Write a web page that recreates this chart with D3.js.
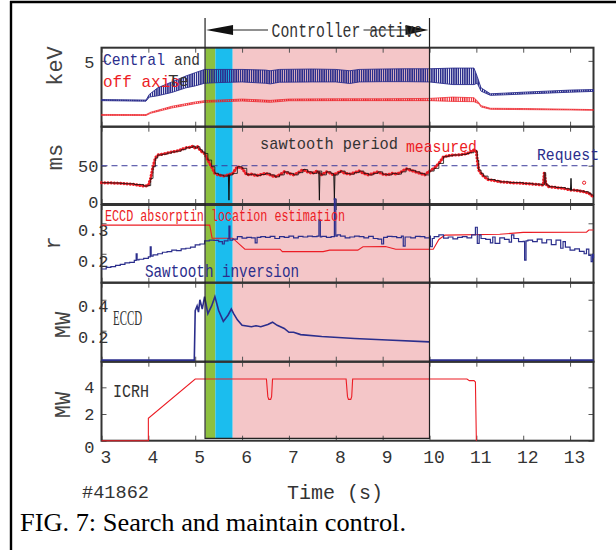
<!DOCTYPE html>
<html>
<head>
<meta charset="utf-8">
<script src="https://cdn.jsdelivr.net/npm/d3@7"></script>
<style>
  body { margin: 0; background: #fff; }
  svg { display: block; }
</style>
</head>
<body>
<div class="d3-canvas"></div>
<script>
const WIDTH = 616;
const HEIGHT = 550;

const MONO = "'Liberation Mono', 'DejaVu Sans Mono', monospace";
const SERIF = "'Liberation Serif', 'DejaVu Serif', serif";
const BLUE = '#2b2e8c';
const RED = '#ec1c24';
const INK = '#333';

// ---- data ----
const xTicks = [3, 4, 5, 6, 7, 8, 9, 10, 11, 12, 13];
const keVTicks = [5];
const msTicks = [0, 50];
const rTicks = [0.2, 0.3];
const eccdTicks = [0.2, 0.4];
const icrhTicks = [0, 2, 4];

// control phases (s): search (green), settle (cyan), maintain (pink)
const phaseStarts = [5.22, 5.43, 5.80];
const phaseEnds = [5.43, 5.80, 10.0];
const phaseColors = ['#8dc03f', '#1bbdee', '#f4c6c8'];
const controllerOn = [5.21, 10.0];

// Te envelopes [t, low, high] keV (sawtooth band)
const teCentral = [[3.0,1.98,2.06],[3.5,1.96,2.04],[3.95,1.94,2.02],[4.02,2.25,2.45],[4.2,2.35,2.95],[4.5,2.6,3.4],[4.8,2.95,3.85],[5.0,3.1,4.1],[5.2,3.3,4.35],[5.5,3.35,4.35],[6.0,3.4,4.35],[6.5,3.3,4.3],[6.6,3.25,4.25],[6.8,3.38,4.35],[7.5,3.4,4.38],[8.0,3.4,4.35],[8.3,3.28,4.25],[8.5,3.4,4.35],[9.0,3.42,4.38],[9.5,3.42,4.4],[10.0,3.4,4.4],[10.5,3.2,4.45],[10.95,3.2,4.45],[11.02,3.3,3.8],[11.1,2.7,2.95],[11.3,2.38,2.5],[11.6,2.42,2.55],[12.0,2.48,2.62],[12.5,2.55,2.7],[13.0,2.62,2.78],[13.5,2.68,2.82]];
const teOffAxis = [[3.0,0.86,0.93],[3.95,0.85,0.92],[4.05,1.02,1.1],[4.5,1.42,1.55],[5.0,1.75,1.88],[5.2,1.85,1.98],[6.0,1.95,2.1],[6.6,1.85,2.0],[7.0,1.97,2.1],[8.0,1.98,2.12],[9.0,1.98,2.12],[10.0,1.98,2.15],[10.5,1.92,2.25],[10.95,1.9,2.2],[11.05,1.75,1.85],[11.1,1.5,1.6],[11.3,1.32,1.4],[12.0,1.3,1.38],[13.0,1.27,1.33],[13.5,1.24,1.3]];

// sawtooth period [t, ms]
const periodRequest = 50;
const periodMeasured = [[3.0,27.8],[3.2,27.5],[3.4,27],[3.5,26.5],[3.7,25.5],[3.9,23.5],[4.0,24],[4.05,33.5],[4.1,48.7],[4.15,60],[4.2,64],[4.3,65],[4.4,66.5],[4.5,68],[4.6,69],[4.7,71],[4.8,73.5],[4.9,74],[4.95,75.7],[5.0,73],[5.05,74.8],[5.1,71],[5.15,68],[5.2,66],[5.27,57.4],[5.35,48.7],[5.42,40],[5.5,37.9],[5.6,36.5],[5.7,38],[5.8,40],[5.9,48.7],[6.0,46.6],[6.1,38.2],[6.2,39],[6.3,37],[6.4,38.5],[6.5,40.1],[6.6,38],[6.7,35.5],[6.8,38],[6.9,42],[7.0,40],[7.1,38],[7.2,41],[7.3,45],[7.4,42],[7.5,40],[7.6,43],[7.7,38],[7.8,42],[7.9,40],[7.95,38],[8.05,41],[8.1,43],[8.2,40],[8.3,39],[8.4,41],[8.5,43],[8.6,40],[8.7,38],[8.8,40],[8.9,42],[9.0,39],[9.1,38],[9.2,40],[9.3,39],[9.4,42],[9.5,46],[9.6,44],[9.7,42],[9.8,40],[9.9,38],[10.0,43],[10.1,46.6],[10.2,53],[10.3,61.8],[10.4,63],[10.5,64],[10.6,64],[10.7,64.8],[10.8,66],[10.85,67],[10.95,70.5],[11.0,68.3],[11.02,57.4],[11.05,44.4],[11.1,40],[11.15,36.5],[11.25,32],[11.4,30.5],[11.5,29],[11.7,28],[12.0,27],[12.2,26],[12.4,24.8],[12.43,24.8],[12.45,40.9],[12.48,27],[12.5,24.8],[12.55,22.6],[12.7,21.5],[12.9,20],[13.0,18.3],[13.1,18],[13.2,17],[13.3,16],[13.4,14],[13.45,11.7],[13.5,9]];
const periodStray = [[13.3, 27.8]];
// black-only drops [t, from, to]
const periodDrops = [[5.72,38,5],[7.65,42,5],[7.97,38,5],[13.02,18,33.5]];

// ECCD absorption location and sawtooth inversion radius [t, r]
const eccdLocation = [[3,0.294],[5.31,0.294],[5.36,0.251],[5.8,0.251],[6.06,0.215],[6.81,0.215],[6.86,0.207],[7.73,0.207],[7.87,0.212],[8.47,0.212],[8.58,0.223],[9.06,0.224],[9.28,0.215],[10.08,0.215],[10.2,0.247],[10.33,0.261],[11.5,0.264],[12.0,0.27],[13.35,0.271],[13.4,0.278],[13.5,0.278]];
const inversionRadius = [[3.0,0.150],[3.1,0.155],[3.2,0.158],[3.3,0.162],[3.4,0.165],[3.5,0.170],[3.6,0.172],[3.7,0.178],[3.74,0.200],[3.76,0.180],[3.8,0.182],[3.9,0.185],[4.0,0.190],[4.04,0.223],[4.06,0.192],[4.1,0.196],[4.2,0.200],[4.3,0.205],[4.4,0.207],[4.5,0.212],[4.6,0.210],[4.7,0.216],[4.8,0.218],[4.9,0.222],[5.0,0.229],[5.1,0.232],[5.2,0.242],[5.3,0.245],[5.4,0.244],[5.5,0.240],[5.58,0.232],[5.62,0.242],[5.7,0.250],[5.72,0.291],[5.74,0.245],[5.8,0.248],[5.9,0.256],[6.0,0.251],[6.1,0.254],[6.2,0.252],[6.28,0.236],[6.32,0.254],[6.4,0.256],[6.5,0.254],[6.6,0.257],[6.7,0.250],[6.8,0.256],[6.9,0.254],[7.0,0.258],[7.1,0.252],[7.2,0.257],[7.3,0.255],[7.4,0.258],[7.5,0.256],[7.6,0.258],[7.64,0.311],[7.67,0.255],[7.7,0.257],[7.8,0.254],[7.9,0.256],[7.97,0.380],[8.0,0.258],[8.03,0.262],[8.1,0.258],[8.2,0.252],[8.3,0.255],[8.4,0.258],[8.5,0.256],[8.6,0.252],[8.7,0.257],[8.8,0.250],[8.9,0.248],[8.98,0.232],[9.02,0.254],[9.1,0.257],[9.2,0.256],[9.3,0.253],[9.4,0.258],[9.44,0.225],[9.48,0.255],[9.6,0.252],[9.7,0.257],[9.8,0.256],[9.9,0.252],[10.0,0.258],[10.02,0.223],[10.06,0.250],[10.1,0.256],[10.2,0.262],[10.3,0.251],[10.4,0.255],[10.5,0.249],[10.6,0.254],[10.7,0.256],[10.8,0.252],[10.9,0.262],[10.98,0.287],[11.02,0.234],[11.06,0.262],[11.1,0.250],[11.2,0.247],[11.3,0.236],[11.35,0.255],[11.4,0.234],[11.5,0.252],[11.6,0.247],[11.7,0.238],[11.75,0.262],[11.8,0.250],[11.9,0.240],[12.0,0.241],[12.03,0.179],[12.06,0.242],[12.1,0.245],[12.2,0.240],[12.3,0.248],[12.4,0.236],[12.5,0.246],[12.6,0.230],[12.7,0.245],[12.8,0.218],[12.85,0.240],[12.9,0.222],[13.0,0.212],[13.1,0.216],[13.2,0.208],[13.3,0.200],[13.35,0.215],[13.4,0.195],[13.45,0.174],[13.48,0.198],[13.5,0.185]];

// ECCD power [t, MW] (null = gap)
const eccdPower = [[3,0.01],[4.98,0.01],[5.0,0.33],[5.04,0.36],[5.07,0.32],[5.1,0.40],[5.15,0.34],[5.2,0.42],[5.27,0.31],[5.35,0.36],[5.42,0.42],[5.5,0.33],[5.6,0.26],[5.7,0.30],[5.77,0.34],[5.82,0.31],[5.9,0.27],[6.0,0.235],[6.2,0.226],[6.3,0.232],[6.4,0.226],[6.55,0.24],[6.65,0.255],[6.75,0.235],[6.9,0.215],[7.0,0.19],[7.1,0.19],[7.25,0.175],[7.7,0.163],[8.4,0.15],[9.1,0.14],[10.0,0.128],[10.0,null],[10.0,0.01],[13.5,0.01]];

// ICRH power [t, MW]
const icrhPower = [[3,0],[4.0,0],[4.0,1.68],[5.0,4.62],[6.52,4.62],[6.55,3.3],[6.57,3.1],[6.61,3.1],[6.63,3.3],[6.65,4.62],[8.22,4.62],[8.25,3.3],[8.27,3.1],[8.32,3.1],[8.34,3.3],[8.36,4.62],[10.8,4.62],[10.85,4.5],[10.95,4.5],[10.98,4.4],[11.0,0]];

// ---- layout ----
const svg = d3.select('.d3-canvas')
    .append('svg')
        .attr('width', WIDTH)
        .attr('height', HEIGHT);

const x = d3.scaleLinear().domain([3, 13.5]).range([101.5, 593.5]);
const [X0, X1] = x.range();

const panels = [
    {top: 47.7, bottom: 126.7, domain: [0, 6.0], ticks: keVTicks, fmt: d3.format('d'), pad: 7, shift: 1, title: 'keV', tx: 54, ty: 66},
    {top: 126.7, bottom: 204, domain: [0, 101], ticks: msTicks, fmt: d3.format('d'), pad: 3, shift: 0, title: 'ms', tx: 54, ty: 157},
    {top: 205, bottom: 282.7, domain: [0.105, 0.36], ticks: rTicks, fmt: d3.format('.1f'), pad: -7, shift: 7, title: 'r', tx: 52, ty: 243},
    {top: 282.7, bottom: 361.7, domain: [0, 0.51], ticks: eccdTicks, fmt: d3.format('.1f'), pad: -7, shift: 6, title: 'MW', tx: 62, ty: 325},
    {top: 361.7, bottom: 440.7, domain: [0, 5.92], ticks: icrhTicks, fmt: d3.format('d'), pad: 7, shift: 0, title: 'MW', tx: 62, ty: 405}
];
panels.forEach(p => { p.y = d3.scaleLinear().domain(p.domain).range([p.bottom, p.top]); });
const [pTe, pMs, pR, pEccd, pIcrh] = panels;

function label(sel, str, px, py, o) {
    return sel.append('text')
        .attr('x', px).attr('y', py)
        .attr('font-family', o.family || MONO)
        .attr('font-size', o.size || 17)
        .attr('fill', o.fill || INK)
        .attr('text-anchor', o.anchor || 'start')
        .attr('textLength', o.len || null)
        .attr('lengthAdjust', o.len ? 'spacingAndGlyphs' : null)
        .text(str);
}

// sawtooth hatching patterns
const defs = svg.append('defs');
[['sawBlue', BLUE, 1.5], ['sawRed', RED, 1.2]].forEach(([id, col, w]) => {
    defs.append('pattern').attr('id', id)
        .attr('patternUnits', 'userSpaceOnUse')
        .attr('width', 2.2).attr('height', 10)
        .append('rect').attr('width', w).attr('height', 10).attr('fill', col);
});

// frame of the figure
svg.append('line').attr('x1', 11).attr('x2', 11).attr('y1', 1).attr('y2', HEIGHT)
    .attr('stroke', '#000').attr('stroke-width', 2.4);
svg.append('line').attr('x1', 10).attr('x2', WIDTH).attr('y1', 2).attr('y2', 2)
    .attr('stroke', '#000').attr('stroke-width', 2.4);

// phase shading
const shadeTop = pTe.top, shadeBottom = 438.3;
svg.append('g').selectAll('rect')
    .data(phaseStarts)
    .enter().append('rect')
        .attr('x', d => x(d))
        .attr('y', shadeTop)
        .attr('width', (d, i) => x(phaseEnds[i]) - x(d))
        .attr('height', shadeBottom - shadeTop)
        .attr('fill', (d, i) => phaseColors[i]);

// panel frames and ticks
panels.forEach((p, i) => {
    const g = svg.append('g');
    const tickStyle = s => {
        s.select('.domain').remove();
        s.selectAll('.tick line').attr('stroke', '#555').attr('stroke-width', 1);
    };
    g.append('g').attr('transform', `translate(0,${p.top})`)
        .call(d3.axisTop(x).tickValues(xTicks).tickSize(-5).tickFormat(''))
        .call(tickStyle);
    const bottomAxis = d3.axisBottom(x).tickValues(xTicks).tickSizeInner(-5).tickSizeOuter(0);
    if (i < panels.length - 1) bottomAxis.tickFormat('');
    else bottomAxis.tickPadding(10).tickFormat(d3.format('d'));
    const bx = g.append('g').attr('transform', `translate(0,${p.bottom})`)
        .call(bottomAxis).call(tickStyle);
    bx.selectAll('text').attr('font-family', MONO).attr('font-size', 18)
        .attr('fill', INK).attr('dx', 4);

    const lx = g.append('g').attr('transform', `translate(${X0},0)`)
        .call(d3.axisLeft(p.y).tickValues(p.ticks).tickSize(-5).tickPadding(p.pad).tickFormat(p.fmt))
        .call(tickStyle);
    lx.selectAll('text').attr('font-family', MONO).attr('font-size', 17).attr('fill', INK)
        .attr('transform', d => `translate(0,${d === 0 ? (i === 4 ? 6 : -2) : p.shift})`);
    g.append('g').attr('transform', `translate(${X1},0)`)
        .call(d3.axisRight(p.y).tickValues(p.ticks).tickSize(-5).tickFormat(''))
        .call(tickStyle);

    g.append('rect')
        .attr('x', X0).attr('y', p.top)
        .attr('width', X1 - X0).attr('height', p.bottom - p.top)
        .attr('fill', 'none').attr('stroke', INK).attr('stroke-width', 2);

    svg.append('text')
        .attr('transform', `translate(${p.tx},${p.ty}) rotate(-90)`)
        .attr('text-anchor', 'middle')
        .attr('dy', '0.35em')
        .attr('font-family', MONO).attr('font-size', 22).attr('fill', '#444')
        .text(p.title);
});

// ---- panel 1: Te ----
const bandFor = p => d3.area().x(d => x(d[0])).y0(d => p.y(d[1])).y1(d => p.y(d[2]));
svg.append('path').datum(teOffAxis)
    .attr('d', bandFor(pTe))
    .attr('fill', 'url(#sawRed)').attr('stroke', RED).attr('stroke-width', 0.7);
svg.append('path').datum(teCentral)
    .attr('d', bandFor(pTe))
    .attr('fill', 'url(#sawBlue)').attr('stroke', BLUE).attr('stroke-width', 0.9);

// ---- panel 2: sawtooth period ----
const msLine = d3.line().x(d => x(d[0])).y(d => pMs.y(d[1]));
svg.append('line')
    .attr('x1', X0).attr('x2', X1)
    .attr('y1', pMs.y(periodRequest)).attr('y2', pMs.y(periodRequest))
    .attr('stroke', '#3a3a9a').attr('stroke-width', 1).attr('stroke-dasharray', '6,4');
svg.append('path').datum(periodMeasured)
    .attr('d', msLine)
    .attr('fill', 'none').attr('stroke', RED).attr('stroke-width', 3.2)
    .attr('stroke-linecap', 'round').attr('stroke-dasharray', '0.1,3.1');
svg.append('g').selectAll('circle')
    .data(periodStray)
    .enter().append('circle')
        .attr('cx', d => x(d[0])).attr('cy', d => pMs.y(d[1])).attr('r', 1.6)
        .attr('fill', 'none').attr('stroke', RED);
svg.append('path').datum(periodMeasured)
    .attr('d', msLine.curve(d3.curveStepAfter))
    .attr('fill', 'none').attr('stroke', '#111').attr('stroke-width', 0.8);
svg.append('g').selectAll('path')
    .data(periodDrops)
    .enter().append('path')
        .attr('d', d => d3.line()([[x(d[0] - 0.012), pMs.y(d[1])], [x(d[0]), pMs.y(d[2])], [x(d[0] + 0.012), pMs.y(d[1])]]))
        .attr('fill', 'none').attr('stroke', '#111').attr('stroke-width', 1);

// ---- panel 3: radii ----
svg.append('path').datum(eccdLocation)
    .attr('d', d3.line().x(d => x(d[0])).y(d => pR.y(d[1])))
    .attr('fill', 'none').attr('stroke', RED).attr('stroke-width', 1.1);
svg.append('path').datum(inversionRadius)
    .attr('d', d3.line().x(d => x(d[0])).y(d => pR.y(d[1])).curve(d3.curveStepAfter))
    .attr('fill', 'none').attr('stroke', BLUE).attr('stroke-width', 1.2);

// ---- panel 4: ECCD power ----
svg.append('path').datum(eccdPower)
    .attr('d', d3.line().defined(d => d[1] !== null).x(d => x(d[0])).y(d => pEccd.y(d[1])))
    .attr('fill', 'none').attr('stroke', BLUE).attr('stroke-width', 1.6);

// ---- panel 5: ICRH power ----
svg.append('path').datum(icrhPower)
    .attr('d', d3.line().x(d => x(d[0])).y(d => pIcrh.y(d[1])))
    .attr('fill', 'none').attr('stroke', RED).attr('stroke-width', 1.1);

// ---- controller window ----
const ctrl = svg.append('g').attr('stroke', '#222').attr('fill', 'none');
const xa = x(controllerOn[0]), xb = x(controllerOn[1]);
ctrl.append('path')
    .attr('d', `M${xa},18V${shadeBottom}H${xb}V18`)
    .attr('stroke-width', 1.2);
const arrowY = 30;
ctrl.append('path').attr('d', `M${xa + 28},${arrowY}H${xa + 63}`).attr('stroke-width', 1.2);
svg.append('path')
    .attr('d', `M${xa + 1},${arrowY}L${xa + 28},${arrowY - 5}V${arrowY + 5}Z M${xb - 1},${arrowY}L${xb - 24},${arrowY - 5}V${arrowY + 5}Z`)
    .attr('fill', '#111');
label(svg, 'Controller active', 347, 37, {size: 20, len: 151, anchor: 'middle'});
svg.append('path').attr('d', `M${xb - 66},${arrowY}H${xb - 22}`).attr('stroke', '#222').attr('stroke-width', 1.2);

// ---- annotations ----
label(svg, 'Central', 103, 65, {size: 17, fill: BLUE, len: 62});
label(svg, 'and', 174, 65, {size: 17, len: 26});
label(svg, 'off axis', 103, 87, {size: 17, fill: RED, len: 77});
label(svg, 'Te', 168, 86, {size: 17, len: 21});

label(svg, 'sawtooth period', 260, 149, {size: 17, len: 138});
label(svg, 'measured', 406, 152, {size: 17, fill: RED, len: 71});
label(svg, 'Request', 537, 160, {size: 17, fill: BLUE, len: 62});

label(svg, 'ECCD absorptin location estimation', 105, 221, {size: 16, fill: RED, len: 240});
label(svg, 'Sawtooth inversion', 145, 277, {size: 18, fill: BLUE, len: 154});

label(svg, 'ECCD', 113, 325, {size: 22, family: SERIF, len: 29});
label(svg, 'ICRH', 113, 397, {size: 18, len: 36});

label(svg, '#41862', 82, 498, {size: 19, len: 67});
label(svg, 'Time (s)', 287, 499, {size: 20, len: 96});

label(svg, 'FIG. 7: Search and maintain control.', 20, 531, {size: 26, family: SERIF, fill: '#000', len: 386});
</script>
</body>
</html>
